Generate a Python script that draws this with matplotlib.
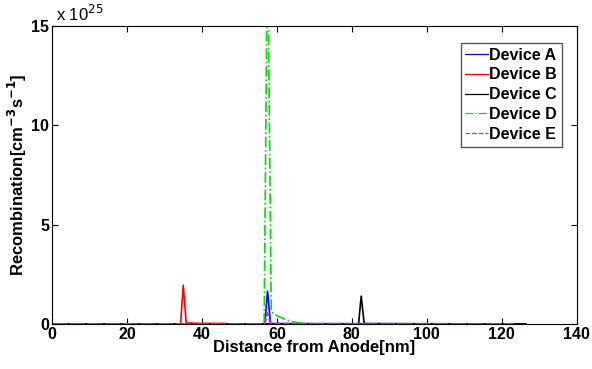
import numpy as np
import matplotlib.pyplot as plt

plt.rcParams['font.family'] = ['Liberation Sans', 'DejaVu Sans']

# values in units of 1e25 cm^-3 s^-1
dev_a_x = [0, 56.8, 57.5, 58.3, 125]
dev_a_y = [0, 0, 1.65, 0.02, 0]
dev_b_x = [0, 34.3, 35.0, 35.8, 40, 46, 47, 125]
dev_b_y = [0, 0, 1.95, 0.05, 0.03, 0.03, 0, 0]
dev_c_x = [0, 81.8, 82.5, 83.3, 126.5]
dev_c_y = [0, 0, 1.4, 0.02, 0]
dev_d_x = [0, 56.6, 57.5, 58.5, 60, 62, 64, 66, 68, 124]
dev_d_y = [0, 0, 20.0, 0.6, 0.42, 0.25, 0.12, 0.05, 0, 0]
dev_e_x = [0, 56.8, 57.5, 58.3, 121]
dev_e_y = [0, 0, 0.55, 0.02, 0]

names = ["Device A", "Device B", "Device C", "Device D", "Device E"]
xs = [dev_a_x, dev_b_x, dev_c_x, dev_d_x, dev_e_x]
ys = [dev_a_y, dev_b_y, dev_c_y, dev_d_y, dev_e_y]
colors = ["#0000ff", "#ff0000", "#000000", "#00dd00", "#ff00ff"]
styles = ["-", "-", "-", "-.", "--"]

fig = plt.figure(figsize=(5.92, 3.69), dpi=100)
ax = fig.add_axes([0.088, 0.122, 0.886, 0.808])

for x, y, c, ls, n in zip(xs, ys, colors, styles, names):
    ax.plot(x, y, color=c, linestyle=ls, linewidth=1.2, label=n)

ax.set_xlim(0, 140)
ax.set_ylim(0, 15)
ax.set_xticks(np.arange(0, 141, 20))
ax.set_yticks([0, 5, 10, 15])
ax.tick_params(direction="in", top=True, right=True, length=4, labelsize=11.5, pad=2)
for lab in ax.get_xticklabels() + ax.get_yticklabels():
    lab.set_fontweight("bold")

ax.set_xlabel("Distance from Anode[nm]", fontsize=12, fontweight="bold", labelpad=-1)
ax.set_ylabel("Recombination[cm$^{\\mathbf{-3}}$s$^{\\mathbf{-1}}$]", fontsize=12,
              fontweight="bold", labelpad=2)
ax.text(0.008, 1.005, "x 10$^{25}$", transform=ax.transAxes, fontsize=12,
        ha="left", va="bottom")

leg = ax.legend(loc="upper right", bbox_to_anchor=(0.972, 0.943), fontsize=11.5,
                handlelength=1.4, handletextpad=0.1, borderpad=0.3,
                labelspacing=0.3, fancybox=False, framealpha=1,
                edgecolor="#555555", borderaxespad=0)
for t in leg.get_texts():
    t.set_fontweight("bold")
for h in leg.get_lines():
    h.set_linewidth(0.9)

fig.savefig("out.png", dpi=100)
